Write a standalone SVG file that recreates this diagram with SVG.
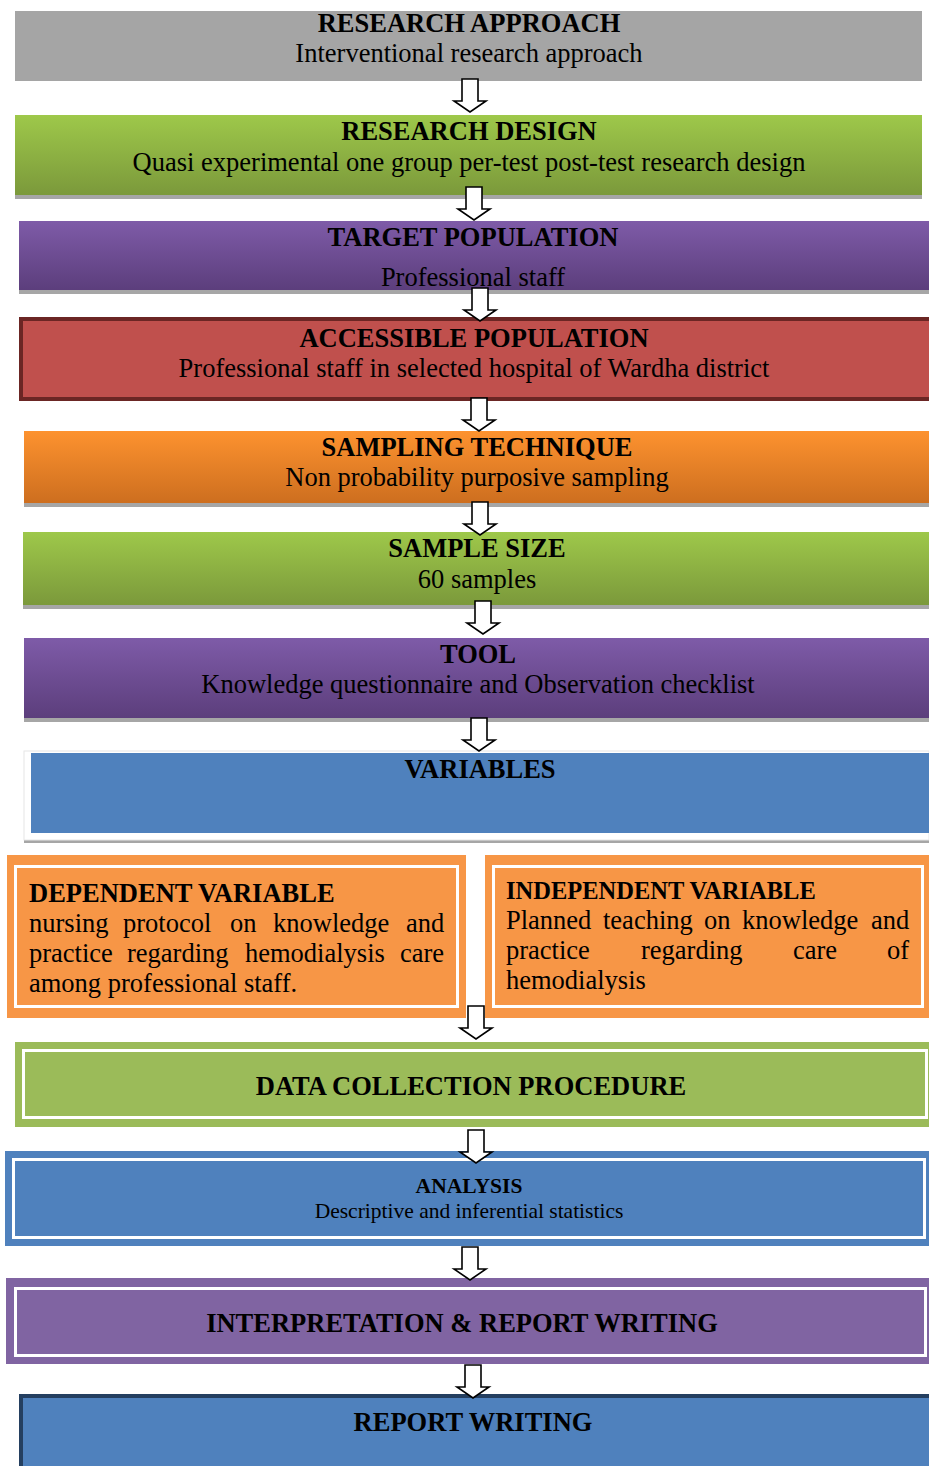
<svg xmlns="http://www.w3.org/2000/svg" width="929" height="1466" viewBox="0 0 929 1466">
<defs>
<linearGradient id="gGreen" x1="0" y1="0" x2="0" y2="1"><stop offset="0" stop-color="#9ec84a"/><stop offset="1" stop-color="#7b993b"/></linearGradient>
<linearGradient id="gPurple" x1="0" y1="0" x2="0" y2="1"><stop offset="0" stop-color="#7e5ba8"/><stop offset="1" stop-color="#5c3e7c"/></linearGradient>
<linearGradient id="gOrange" x1="0" y1="0" x2="0" y2="1"><stop offset="0" stop-color="#fd922f"/><stop offset="1" stop-color="#cd6e1f"/></linearGradient>
<path id="arr" d="M-8,0 H8 V22 H16 L0,33 L-16,22 H-8 Z"/>
<style>
text{font-family:"Liberation Serif","Times New Roman",serif;fill:#000;}
.h{font-weight:bold;font-size:26.5px;text-anchor:middle;}
.s{font-size:26.5px;text-anchor:middle;}
.hl{font-weight:bold;font-size:26.5px;}
.b{font-size:26.5px;}
.shadow{fill:#a6a6a6;}
.inner{fill:none;stroke:#fff;stroke-width:3;}
.arrow{fill:#fff;stroke:#000;stroke-width:1.6;stroke-linejoin:miter;}
</style>
</defs>
<rect width="929" height="1466" fill="#fff"/>

<g id="research-approach">
<rect x="15" y="11" width="907" height="70" fill="#a5a5a5"/>
<text class="h" x="469" y="32">RESEARCH APPROACH</text>
<text class="s" x="469" y="62">Interventional research approach</text>
</g>

<g id="research-design">
<rect class="shadow" x="15" y="195" width="907" height="4"/>
<rect x="15" y="115" width="907" height="80" fill="url(#gGreen)"/>
<text class="h" x="469" y="140">RESEARCH DESIGN</text>
<text class="s" x="469" y="171">Quasi experimental one group per-test post-test research design</text>
</g>

<g id="target-population">
<rect class="shadow" x="19" y="290" width="910" height="4"/>
<rect x="19" y="221" width="910" height="69" fill="url(#gPurple)"/>
<text class="h" x="473" y="246">TARGET POPULATION</text>
<text class="s" x="473" y="286">Professional staff</text>
</g>

<g id="accessible-population">
<rect x="21" y="319" width="910" height="80" fill="#c0504d" stroke="#6b2624" stroke-width="4"/>
<text class="h" x="474" y="347">ACCESSIBLE POPULATION</text>
<text class="s" x="474" y="377">Professional staff in selected hospital of Wardha district</text>
</g>

<g id="sampling-technique">
<rect class="shadow" x="24" y="503" width="905" height="4"/>
<rect x="24" y="431" width="905" height="72" fill="url(#gOrange)"/>
<text class="h" x="477" y="456">SAMPLING TECHNIQUE</text>
<text class="s" x="477" y="486">Non probability purposive sampling</text>
</g>

<g id="sample-size">
<rect class="shadow" x="23" y="605" width="906" height="4"/>
<rect x="23" y="532" width="906" height="73" fill="url(#gGreen)"/>
<text class="h" x="477" y="557">SAMPLE SIZE</text>
<text class="s" x="477" y="588">60 samples</text>
</g>

<g id="tool">
<rect class="shadow" x="24" y="718" width="905" height="4"/>
<rect x="24" y="638" width="905" height="80" fill="url(#gPurple)"/>
<text class="h" x="478" y="663">TOOL</text>
<text class="s" x="478" y="693">Knowledge questionnaire and Observation checklist</text>
</g>

<g id="variables">
<rect class="shadow" x="24" y="840" width="905" height="3"/>
<rect x="24" y="751" width="905" height="89" fill="#fff" stroke="#e6e6e6" stroke-width="1"/>
<rect x="31" y="753" width="898" height="80" fill="#4f81bd"/>
<text class="h" x="480" y="778">VARIABLES</text>
</g>

<g id="dependent-variable">
<rect x="7" y="855" width="459" height="163" fill="#f79646"/>
<rect class="inner" x="15.5" y="866.5" width="442" height="140"/>
<text class="hl" x="29" y="902">DEPENDENT VARIABLE</text>
<text class="b" y="932"><tspan x="29">nursing</tspan><tspan x="123">protocol</tspan><tspan x="230">on</tspan><tspan x="273">knowledge</tspan><tspan x="406">and</tspan></text>
<text class="b" y="962"><tspan x="29">practice</tspan><tspan x="127">regarding</tspan><tspan x="245">hemodialysis</tspan><tspan x="400">care</tspan></text>
<text class="b" x="29" y="992">among professional staff.</text>
</g>

<g id="independent-variable">
<rect x="485" y="855" width="444" height="163" fill="#f79646"/>
<rect class="inner" x="493.5" y="866.5" width="429" height="140"/>
<text class="hl" x="506" y="899" style="font-size:24.5px">INDEPENDENT VARIABLE</text>
<text class="b" y="929"><tspan x="506">Planned</tspan><tspan x="603">teaching</tspan><tspan x="704">on</tspan><tspan x="742">knowledge</tspan><tspan x="871">and</tspan></text>
<text class="b" y="959"><tspan x="506">practice</tspan><tspan x="641">regarding</tspan><tspan x="793">care</tspan><tspan x="887">of</tspan></text>
<text class="b" x="506" y="989">hemodialysis</text>
</g>

<g id="data-collection">
<rect x="15" y="1042" width="914" height="85" fill="#9bbb59"/>
<rect class="inner" x="23.5" y="1050.5" width="903" height="67"/>
<text class="h" x="471" y="1095">DATA COLLECTION PROCEDURE</text>
</g>

<g id="analysis">
<rect x="5" y="1151" width="924" height="95" fill="#4f81bd"/>
<rect class="inner" x="13.5" y="1159.5" width="911" height="78"/>
<text class="h" x="469" y="1193" style="font-size:21.5px">ANALYSIS</text>
<text class="s" x="469" y="1218" style="font-size:21.5px">Descriptive and inferential statistics</text>
</g>

<g id="interpretation">
<rect x="6" y="1278" width="923" height="86" fill="#8064a2"/>
<rect class="inner" x="15.5" y="1288.5" width="910" height="67"/>
<text class="h" x="462" y="1332">INTERPRETATION &amp; REPORT WRITING</text>
</g>

<g id="report-writing">
<rect x="21" y="1396" width="912" height="80" fill="#4f81bd" stroke="#243f60" stroke-width="4"/>
<text class="h" x="473" y="1431">REPORT WRITING</text>
</g>

<g id="connectors" class="arrow">
<use href="#arr" x="470" y="79"/>
<use href="#arr" x="474" y="187"/>
<use href="#arr" x="480" y="288"/>
<use href="#arr" x="479" y="398"/>
<use href="#arr" x="480" y="502"/>
<use href="#arr" x="483" y="601"/>
<use href="#arr" x="479" y="718"/>
<use href="#arr" x="476" y="1006"/>
<use href="#arr" x="476" y="1130"/>
<use href="#arr" x="470" y="1247"/>
<use href="#arr" x="473" y="1365"/>
</g>
</svg>
